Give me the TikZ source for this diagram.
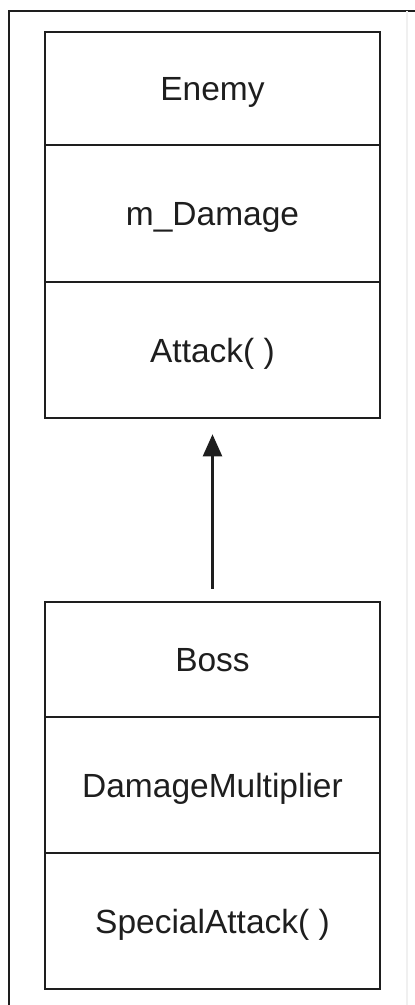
\documentclass[tikz,border=0pt]{standalone}
\usepackage{fontspec}
\setmainfont{Liberation Sans}
\usetikzlibrary{arrows.meta}
\definecolor{ink}{HTML}{1E1E1E}
\begin{document}
\begin{tikzpicture}[x=1pt,y=-1pt,
  compartment/.style={draw=ink, line width=2.6pt, minimum width=335pt,
    inner sep=0pt, text height=24pt, text depth=0pt,
    font=\fontsize{33.5}{40}\selectfont, text=ink},
  frame/.style={draw=ink, line width=2.6pt},
  inherit/.style={draw=ink, line width=2.4pt,
    -{Triangle[length=22pt,width=19pt]}}]
  \useasboundingbox (0,0) rectangle (415,1005);
  % page frame
  \draw[frame] (9,1005) -- (9,11) -- (415,11);
  \draw[gray!12, line width=1.5pt] (407,11) -- (407,1005);
  % Enemy class
  \node[compartment, minimum height=113pt] (enemyName) at (212.5,88.5) {Enemy};
  \node[compartment, minimum height=137pt] (enemyAttr) at (212.5,213.5) {m\_Damage};
  \node[compartment, minimum height=136pt] (enemyOp) at (212.5,350) {Attack( )};
  % Boss class
  \node[compartment, minimum height=115pt] (bossName) at (212.5,659.5) {Boss};
  \node[compartment, minimum height=136pt] (bossAttr) at (212.5,785) {DamageMultiplier};
  \node[compartment, minimum height=136pt] (bossOp) at (212.5,921) {SpecialAttack( )};
  % generalization
  \draw[inherit, shorten <=12pt, shorten >=15pt] (bossName.north) -- (enemyOp.south);
\end{tikzpicture}
\end{document}
